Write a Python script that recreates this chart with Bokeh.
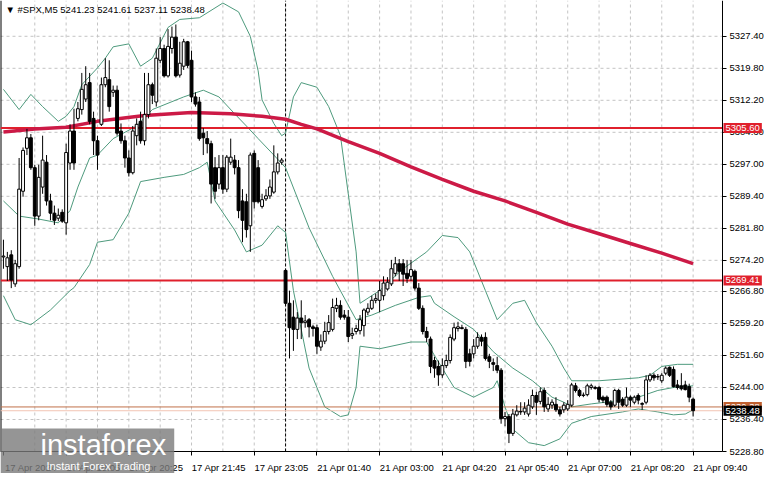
from bokeh.plotting import figure
from bokeh.models import ColumnDataSource, Range1d, FixedTicker, Label, NumeralTickFormatter
from bokeh.embed import file_html
from bokeh.resources import INLINE

# ---------------- data ----------------
opens = [
5275.0, 5272.7, 5275.5, 5268.6, 5272.7, 5290.6, 5300.8, 5303.3, 5296.2, 5284.7,
5291.6, 5297.5, 5288.3, 5285.4, 5284.2, 5285.6, 5283.1, 5297.3, 5304.9, 5307.9,
5310.0, 5312.5, 5316.4, 5307.9, 5302.6, 5306.5, 5315.9, 5317.1, 5314.1, 5314.6,
5304.9, 5302.6, 5298.5, 5295.0, 5303.8, 5307.2, 5302.6, 5308.8, 5315.9, 5311.8,
5321.7, 5324.5, 5318.0, 5324.5, 5327.2, 5318.2, 5320.3, 5326.1, 5321.7, 5313.0,
5311.8, 5304.4, 5303.1, 5301.9, 5296.2, 5292.3, 5296.2, 5291.1, 5297.5, 5298.0,
5296.2, 5288.3, 5288.1, 5282.4, 5299.6, 5296.2, 5287.0, 5288.8, 5289.5, 5290.4,
5295.2, 5297.5, 5271.8, 5264.0, 5260.7, 5257.8, 5260.5, 5259.4, 5260.1, 5258.4,
5258.2, 5253.6, 5255.0, 5257.3, 5257.8, 5262.8, 5263.5, 5261.2, 5260.7, 5256.4,
5257.3, 5257.5, 5258.7, 5261.9, 5262.8, 5264.7, 5264.7, 5265.8, 5267.4, 5268.6,
5271.1, 5273.4, 5273.4, 5271.1, 5270.4, 5271.6, 5267.6, 5262.8, 5257.3, 5255.5,
5250.4, 5249.0, 5247.0, 5249.2, 5250.4, 5255.5, 5258.0, 5258.2, 5257.8, 5252.0,
5252.0, 5253.8, 5255.9, 5255.9, 5251.3, 5249.9, 5249.2, 5248.1, 5236.6, 5237.1,
5233.1, 5237.5, 5238.2, 5238.2, 5237.7, 5239.4, 5242.1, 5240.7, 5243.3, 5238.9,
5239.8, 5240.0, 5238.7, 5238.7, 5238.9, 5239.8, 5244.4, 5243.3, 5242.1, 5242.3,
5244.0, 5244.0, 5244.0, 5241.7, 5241.7, 5240.5, 5239.8, 5243.3, 5241.2, 5239.8,
5241.7, 5240.5, 5242.1, 5240.0, 5240.5, 5245.8, 5246.9, 5246.5, 5245.6, 5247.4,
5248.8, 5248.3, 5244.6, 5244.4, 5244.6, 5244.2, 5241.23]

highs = [
5279.1, 5276.2, 5276.6, 5274.3, 5298.5, 5301.0, 5305.4, 5304.2, 5296.9, 5296.9,
5303.8, 5299.2, 5290.0, 5287.2, 5286.5, 5286.3, 5301.9, 5306.5, 5310.2, 5311.8,
5318.7, 5320.3, 5318.7, 5309.5, 5303.8, 5317.6, 5322.2, 5321.7, 5315.7, 5315.7,
5306.7, 5303.8, 5300.3, 5306.1, 5307.9, 5309.5, 5318.7, 5318.7, 5316.4, 5324.5,
5327.2, 5325.4, 5329.1, 5329.7, 5330.2, 5326.1, 5326.8, 5326.3, 5324.0, 5314.1,
5313.0, 5305.6, 5304.9, 5302.6, 5298.7, 5299.2, 5299.2, 5299.2, 5303.1, 5299.2,
5298.0, 5291.1, 5290.0, 5299.8, 5300.3, 5298.0, 5290.0, 5291.1, 5293.4, 5301.5,
5299.6, 5298.5, 5272.2, 5267.0, 5264.7, 5261.9, 5264.7, 5261.2, 5260.5, 5258.9,
5258.9, 5256.6, 5259.6, 5261.2, 5265.1, 5265.3, 5264.7, 5262.4, 5262.4, 5258.2,
5258.9, 5261.2, 5262.8, 5264.0, 5265.8, 5266.3, 5269.3, 5270.4, 5270.2, 5274.3,
5275.0, 5274.5, 5274.5, 5274.3, 5274.3, 5272.0, 5268.8, 5263.5, 5258.4, 5256.1,
5251.3, 5250.4, 5250.9, 5251.8, 5256.6, 5259.4, 5259.6, 5258.9, 5258.4, 5253.2,
5255.5, 5257.1, 5256.6, 5257.1, 5252.0, 5250.9, 5251.3, 5248.6, 5238.2, 5237.7,
5238.9, 5239.8, 5240.5, 5240.5, 5241.2, 5243.5, 5243.0, 5244.0, 5244.0, 5241.7,
5241.2, 5241.7, 5239.4, 5240.5, 5241.0, 5245.1, 5245.1, 5243.7, 5242.8, 5244.9,
5244.9, 5244.4, 5244.4, 5242.1, 5242.1, 5241.0, 5243.7, 5243.7, 5241.7, 5244.0,
5242.1, 5242.1, 5242.6, 5240.5, 5246.9, 5247.4, 5247.4, 5247.2, 5247.4, 5249.0,
5249.0, 5249.0, 5245.8, 5247.4, 5245.6, 5244.9, 5241.61]

lows = [
5272.2, 5269.3, 5267.6, 5267.9, 5272.2, 5289.3, 5299.2, 5295.7, 5282.4, 5283.7,
5290.0, 5287.2, 5283.7, 5282.6, 5283.5, 5283.1, 5280.3, 5295.7, 5295.7, 5307.2,
5308.8, 5311.8, 5306.5, 5299.2, 5295.7, 5306.1, 5315.3, 5309.5, 5313.0, 5303.8,
5301.9, 5296.2, 5294.1, 5294.6, 5301.5, 5301.9, 5301.5, 5307.9, 5311.3, 5310.7,
5321.0, 5317.6, 5317.6, 5323.3, 5317.6, 5317.6, 5319.4, 5319.9, 5311.8, 5310.7,
5302.6, 5299.2, 5299.6, 5287.7, 5288.8, 5291.1, 5290.0, 5290.4, 5296.9, 5294.6,
5284.2, 5278.5, 5279.6, 5276.2, 5286.5, 5287.7, 5286.5, 5288.3, 5288.8, 5290.0,
5294.6, 5296.9, 5263.5, 5250.9, 5252.7, 5255.5, 5255.5, 5258.2, 5255.9, 5256.1,
5252.0, 5252.7, 5254.3, 5256.6, 5257.3, 5261.9, 5260.1, 5260.1, 5254.8, 5255.5,
5256.6, 5256.6, 5256.1, 5261.2, 5262.4, 5264.0, 5261.9, 5264.7, 5267.0, 5268.1,
5270.4, 5269.3, 5268.1, 5268.8, 5269.3, 5267.0, 5262.4, 5256.6, 5254.8, 5247.4,
5246.3, 5244.4, 5246.3, 5248.6, 5249.7, 5255.0, 5257.3, 5257.8, 5248.6, 5249.0,
5250.9, 5253.2, 5253.8, 5250.4, 5248.6, 5247.9, 5247.4, 5235.4, 5234.8, 5230.8,
5232.5, 5237.1, 5237.5, 5237.5, 5237.1, 5238.9, 5237.5, 5240.0, 5238.2, 5238.2,
5238.9, 5238.2, 5237.1, 5238.0, 5238.4, 5239.4, 5242.8, 5241.7, 5241.7, 5241.9,
5243.5, 5243.5, 5240.5, 5240.3, 5239.4, 5238.7, 5239.4, 5238.9, 5239.4, 5239.4,
5239.4, 5240.0, 5240.0, 5238.7, 5240.0, 5245.3, 5245.6, 5245.8, 5245.1, 5246.9,
5246.5, 5244.0, 5243.5, 5243.3, 5243.3, 5240.5, 5237.11]

closes = [
5275.2, 5274.8, 5269.5, 5273.4, 5291.1, 5300.3, 5303.3, 5296.2, 5284.7, 5293.9,
5298.0, 5288.3, 5285.4, 5283.7, 5284.9, 5283.5, 5299.8, 5304.9, 5297.3, 5310.2,
5314.8, 5315.9, 5307.2, 5302.6, 5299.2, 5315.9, 5317.6, 5310.7, 5314.6, 5304.4,
5302.6, 5298.5, 5295.0, 5304.9, 5306.5, 5302.6, 5308.8, 5315.9, 5313.4, 5322.2,
5324.5, 5318.0, 5325.0, 5327.2, 5318.0, 5321.0, 5326.1, 5320.5, 5313.0, 5311.3,
5303.1, 5303.3, 5301.9, 5292.3, 5290.6, 5296.2, 5291.1, 5298.7, 5298.7, 5296.2,
5286.0, 5283.7, 5281.5, 5299.2, 5288.1, 5288.1, 5288.6, 5289.5, 5291.6, 5295.2,
5297.3, 5298.0, 5264.0, 5258.2, 5257.8, 5260.5, 5259.4, 5259.8, 5258.4, 5258.0,
5253.8, 5255.0, 5257.3, 5259.4, 5263.0, 5263.5, 5260.7, 5260.7, 5256.1, 5256.8,
5258.0, 5260.1, 5262.4, 5262.8, 5264.7, 5265.1, 5267.0, 5268.8, 5269.0, 5272.2,
5273.4, 5271.6, 5270.9, 5269.9, 5272.0, 5267.6, 5262.8, 5257.3, 5255.9, 5249.0,
5248.6, 5247.0, 5249.2, 5250.4, 5255.9, 5258.2, 5258.4, 5258.0, 5250.2, 5250.2,
5253.8, 5255.9, 5255.0, 5250.9, 5250.2, 5249.5, 5248.1, 5236.6, 5237.1, 5233.1,
5237.7, 5238.4, 5238.3, 5239.1, 5239.8, 5242.1, 5240.5, 5243.0, 5239.4, 5240.0,
5240.5, 5238.7, 5237.7, 5239.8, 5240.0, 5244.6, 5243.3, 5242.1, 5242.2, 5244.4,
5244.4, 5243.8, 5241.2, 5241.0, 5240.0, 5239.4, 5243.3, 5240.5, 5239.8, 5241.7,
5241.0, 5241.7, 5241.0, 5240.2, 5245.8, 5246.9, 5246.3, 5246.6, 5246.9, 5248.6,
5246.9, 5244.2, 5244.0, 5243.7, 5243.5, 5241.7, 5238.48]

label_bars = [0, 16, 32, 48, 64, 80, 96, 112, 128, 144, 160, 176]
time_labels = ["17 Apr 2024", "17 Apr 19:05", "17 Apr 20:25", "17 Apr 21:45",
               "17 Apr 23:05", "21 Apr 01:40", "21 Apr 03:00", "21 Apr 04:20",
               "21 Apr 05:40", "21 Apr 07:00", "21 Apr 08:20", "21 Apr 09:40"]
grid_bars = list(range(8, 177, 8))
separator_bar = 72

price_ticks = [5228.80, 5236.40, 5244.00, 5251.60, 5259.20, 5266.80, 5274.20,
               5281.80, 5289.40, 5297.00, 5304.60, 5312.20, 5319.80, 5327.40]

ma_bars = [0, 8, 16, 24, 36, 48, 58, 66, 72, 76, 80, 88, 96, 104, 112, 120, 128,
           136, 144, 152, 160, 168, 176]
ma_vals = [5304.7, 5305.4, 5305.8, 5307.2, 5308.6, 5309.3, 5309.0, 5308.4, 5307.7,
           5306.5, 5305.4, 5302.4, 5299.6, 5296.4, 5293.4, 5290.6, 5288.3, 5285.6,
           5282.8, 5280.5, 5278.2, 5275.9, 5273.4]

bb_up_bars = [0, 4, 7, 10, 14, 16, 18, 20, 24, 26, 28, 32, 35, 38, 42, 45, 50, 56, 60,
              63, 65, 66, 69, 71, 72, 74, 76, 80, 83, 86, 88, 90, 91, 96, 102, 108, 112,
              116, 119, 123, 126, 130, 133, 136, 140, 143, 145, 152, 162, 165, 168, 172, 176]
bb_up_vals = [5314.8, 5310.0, 5313.6, 5310.7, 5307.2, 5308.4, 5310.7, 5315.9, 5319.9,
              5322.2, 5324.9, 5325.6, 5320.3, 5322.2, 5329.5, 5331.4, 5331.8, 5335.3,
              5333.2, 5327.4, 5319.2, 5312.3, 5306.7, 5303.8, 5304.4, 5313.0, 5316.4,
              5315.3, 5310.7, 5303.8, 5290.0, 5276.2, 5264.0, 5267.0, 5272.2, 5276.2,
              5280.1, 5279.6, 5276.2, 5267.0, 5260.1, 5264.0, 5264.7, 5259.4, 5253.8,
              5248.6, 5245.6, 5245.6, 5246.3, 5246.9, 5249.0, 5249.5, 5249.5]

bb_mid_bars = [0, 4, 9, 14, 17, 19, 22, 24, 28, 34, 38, 46, 51, 55, 59, 62, 65, 69, 72,
               78, 84, 90, 94, 100, 106, 109, 110, 115, 120, 125, 130, 135, 140, 143,
               145, 150, 158, 162, 167, 171, 176]
bb_mid_vals = [5288.3, 5284.7, 5284.0, 5283.1, 5286.0, 5291.6, 5298.5, 5299.2, 5303.1,
               5306.1, 5310.0, 5313.0, 5314.6, 5313.0, 5309.0, 5306.1, 5303.1, 5299.2,
               5296.2, 5281.9, 5270.4, 5260.1, 5261.2, 5263.5, 5265.4, 5265.8, 5264.0,
               5260.8, 5257.8, 5252.5, 5248.6, 5245.6, 5241.7, 5240.5, 5239.4, 5240.1,
               5241.0, 5241.7, 5243.3, 5244.0, 5244.4]

bb_low_bars = [0, 3, 7, 12, 17, 18, 22, 24, 28, 32, 35, 41, 46, 50, 52, 54, 59, 62, 66,
               70, 72, 74, 78, 82, 86, 88, 90, 91, 96, 104, 108, 110, 115, 120, 125, 126,
               128, 130, 134, 138, 142, 145, 150, 158, 162, 167, 171, 174, 176]
bb_low_vals = [5265.8, 5260.1, 5258.9, 5262.4, 5267.0, 5267.7, 5273.2, 5278.5, 5279.1,
               5285.4, 5292.9, 5293.9, 5294.6, 5296.2, 5297.5, 5288.3, 5281.4, 5276.2,
               5277.8, 5282.4, 5280.8, 5267.0, 5248.6, 5239.4, 5237.1, 5237.5, 5244.0,
               5253.8, 5253.2, 5254.8, 5254.8, 5251.6, 5244.0, 5241.7, 5244.0, 5245.6,
               5239.4, 5234.1, 5230.9, 5230.2, 5231.8, 5235.5, 5237.1, 5238.2, 5238.9,
               5238.2, 5237.5, 5237.7, 5238.7]

level_high = 5305.60
level_low = 5269.41
ask_price = 5239.38
bid_price = 5238.48
title_text = "\u25BC #SPX,M5  5241.23 5241.61 5237.11 5238.48"

# ---------------- figure ----------------
FONT = "Liberation Sans"
W, H = 765, 473
x_lo, x_chart_hi = -0.75, 183.5          # chart area (candles)
y_chart_lo, y_hi = 5228.8, 5335.9
chart_w, chart_h = 722, 451               # pixels of the chart area inside the frame
x_hi = x_chart_hi + (x_chart_hi - x_lo) / chart_w * (W - chart_w)   # room for price scale
y_lo = y_chart_lo - (y_hi - y_chart_lo) / chart_h * (H - chart_h)   # room for time scale

p = figure(width=W, height=H, x_range=Range1d(x_lo, x_hi), y_range=Range1d(y_lo, y_hi),
           y_axis_location="right", output_backend="svg", toolbar_location=None,
           min_border_left=0, min_border_top=0, min_border_right=0, min_border_bottom=0)
p.background_fill_color = "white"
p.border_fill_color = "white"
p.outline_line_color = None
p.xgrid.visible = False
p.ygrid.visible = False

# right price axis, pinned at the chart's right edge
p.yaxis.fixed_location = x_chart_hi
p.yaxis.bounds = (y_chart_lo, y_hi)
p.yaxis.ticker = FixedTicker(ticks=price_ticks)
p.yaxis.formatter = NumeralTickFormatter(format="0.00")
p.yaxis.major_label_text_font = FONT
p.yaxis.major_label_text_font_size = "9.5px"
p.yaxis.major_label_text_color = "black"
p.yaxis.major_tick_out = 4
p.yaxis.major_tick_in = 0
p.yaxis.minor_tick_line_color = None
p.yaxis.axis_line_color = "black"
p.yaxis.major_label_standoff = 3

# bottom time axis, pinned at the chart's bottom edge; labels start at their tick
shift = 7
p.xaxis.fixed_location = y_chart_lo
p.xaxis.bounds = (x_lo, x_chart_hi)
p.xaxis.ticker = FixedTicker(ticks=[b + shift for b in label_bars], minor_ticks=label_bars)
p.xaxis.major_label_overrides = {b + shift: t for b, t in zip(label_bars, time_labels)}
p.xaxis.major_tick_line_color = None
p.xaxis.minor_tick_line_color = "black"
p.xaxis.minor_tick_out = 4
p.xaxis.minor_tick_in = 0
p.xaxis.axis_line_color = "black"
p.xaxis.major_label_text_font = FONT
p.xaxis.major_label_text_font_size = "9.5px"
p.xaxis.major_label_text_color = "black"
p.xaxis.major_label_standoff = 4

# dashed grid limited to the chart area
grid_col = "#c4c4c4"
p.segment(x0=[x_lo] * len(price_ticks), x1=[x_chart_hi] * len(price_ticks),
          y0=price_ticks, y1=price_ticks, line_color=grid_col, line_dash="3 3", line_width=1)
p.segment(x0=grid_bars, x1=grid_bars, y0=[y_chart_lo] * len(grid_bars),
          y1=[y_hi] * len(grid_bars), line_color=grid_col, line_dash="3 3", line_width=1)

# left border and day separator
p.segment(x0=[x_lo], x1=[x_lo], y0=[y_chart_lo], y1=[y_hi], line_color="black", line_width=2)
p.segment(x0=[separator_bar], x1=[separator_bar], y0=[y_chart_lo], y1=[y_hi],
          line_color="black", line_dash="3 2", line_width=1)

# Bollinger bands
bb_color = "#4e9a7d"
p.line(bb_up_bars, bb_up_vals, line_color=bb_color, line_width=1)
p.line(bb_mid_bars, bb_mid_vals, line_color=bb_color, line_width=1)
p.line(bb_low_bars, bb_low_vals, line_color=bb_color, line_width=1)

# horizontal levels and price lines
p.segment(x0=[x_lo, x_lo], x1=[x_chart_hi, x_chart_hi], y0=[level_high, level_low],
          y1=[level_high, level_low], line_color="#e0202c", line_width=2)
p.segment(x0=[x_lo], x1=[x_chart_hi], y0=[ask_price], y1=[ask_price],
          line_color="#c0714a", line_width=1)
p.segment(x0=[x_lo], x1=[x_chart_hi], y0=[bid_price], y1=[bid_price],
          line_color="#f2c4b4", line_width=1)

# moving average
p.line(ma_bars, ma_vals, line_color="#cc1a46", line_width=3.5)

# candles
bars = list(range(len(opens)))
tops = [max(o, c) for o, c in zip(opens, closes)]
bots = [min(o, c) for o, c in zip(opens, closes)]
fills = ["white" if c >= o else "black" for o, c in zip(opens, closes)]
src = ColumnDataSource(dict(x=bars, h=highs, l=lows, top=tops, bottom=bots, fill=fills))
p.segment(x0="x", y0="h", x1="x", y1="l", source=src, line_color="black", line_width=1)
p.vbar(x="x", width=0.74, top="top", bottom="bottom", source=src,
       fill_color="fill", line_color="black", line_width=1)

# title
p.add_layout(Label(x=x_lo, y=y_hi, text=title_text, text_align="left", text_baseline="top",
                   x_offset=5, y_offset=-3, text_font=FONT, text_font_size="9.5px",
                   text_color="black"))


# price boxes on the price scale
def price_box(val, txt, bg, fg="white"):
    p.add_layout(Label(x=x_chart_hi, y=val, text=txt, text_align="left", text_baseline="middle",
                       x_offset=1, text_font=FONT, text_font_size="9.5px", text_color=fg,
                       background_fill_color=bg, background_fill_alpha=1.0, padding=2))


price_box(ask_price, "%.2f" % ask_price, "#c0602f")
price_box(bid_price, "%.2f" % bid_price, "black")
price_box(level_high, "%.2f" % level_high, "#e0202c")
price_box(level_low, "%.2f" % level_low, "#e0202c")

# watermark
wm = Label(x=x_lo, y=y_lo, text="instaforex", text_align="left", text_baseline="bottom",
           x_offset=0, y_offset=0, text_font=FONT, text_font_size="29px", text_color="white",
           background_fill_color="#7a7a7a", background_fill_alpha=0.8)
try:
    wm.padding = dict(left=40, right=8, top=0, bottom=13)
except Exception:
    wm.padding = 6
p.add_layout(wm)
p.add_layout(Label(x=x_lo, y=y_lo, text="Instant Forex Trading", text_align="left",
                   text_baseline="bottom", x_offset=46, y_offset=2, text_font=FONT,
                   text_font_size="11px", text_color="white"))

open("out.html", "w").write(file_html(p, INLINE))
